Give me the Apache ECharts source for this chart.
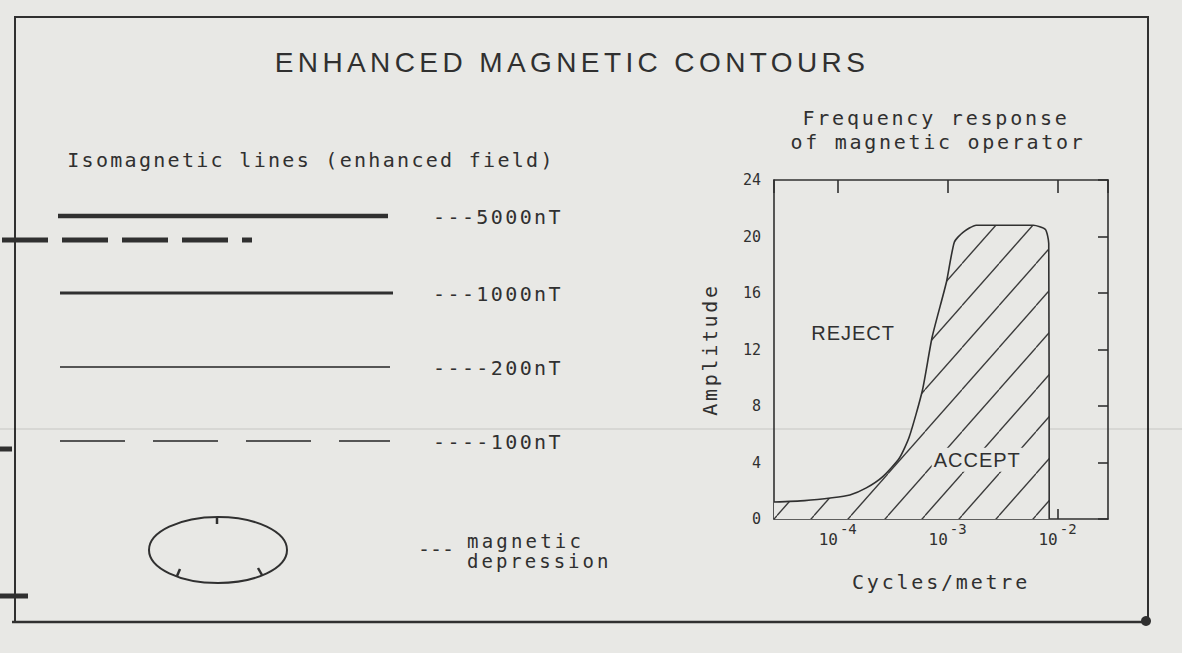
<!DOCTYPE html>
<html><head><meta charset="utf-8">
<script src="https://cdn.jsdelivr.net/npm/echarts@6/dist/echarts.min.js"></script>
<style>
html,body{margin:0;padding:0;background:#e8e8e5;}
#c{width:1182px;height:653px;}
</style></head>
<body><div id="c"></div>
<script>
// ---- data ----
const frequency = [2.63e-5, 5.0e-5, 8.9e-5, 1.29e-4, 1.82e-4, 2.57e-4, 3.63e-4, 4.47e-4, 5.89e-4, 7.24e-4, 9.77e-4, 1.15e-3, 1.38e-3, 1.82e-3, 3.16e-3, 6.03e-3, 7.76e-3, 8.32e-3, 8.4e-3];
const amplitude = [1.2, 1.3, 1.5, 1.7, 2.2, 3.0, 4.3, 5.8, 9.1, 12.9, 16.8, 19.6, 20.3, 20.8, 20.8, 20.8, 20.5, 19.5, 0];
const xRange = [2.63e-5, 2.88e-2];
const yTicks = [0, 4, 8, 12, 16, 20, 24];
const regionNames = ['REJECT', 'ACCEPT'];
const regionFreq = [1.38e-4, 1.86e-3];
const regionAmp = [13.2, 4.2];
const isolineLabels = ['---5000nT', '---1000nT', '----200nT', '----100nT'];
const depressionLabel = ['magnetic', 'depression'];

// ---- styles ----
const INK = '#303030';
const PAPER = '#e8e8e5';
const MONO = '"DejaVu Sans Mono", monospace';
const SANS = '"Liberation Sans", Arial, sans-serif';
const G = {left: 774, top: 180, width: 334, height: 339};

function hatchCanvas() {
  const w = 37, h = 42;
  const c = document.createElement('canvas'); c.width = w; c.height = h;
  const g = c.getContext('2d');
  g.fillStyle = PAPER; g.fillRect(0, 0, w, h);
  g.strokeStyle = '#3a3a3a'; g.lineWidth = 1.4;
  const off = ((G.left / w + (G.top + G.height) / h) % 1);
  for (let k = -1; k <= 2; k++) {
    const t = off + k;
    g.beginPath(); g.moveTo(0, h * t); g.lineTo(w, h * (t - 1)); g.stroke();
  }
  return c;
}

const chart = echarts.init(document.getElementById('c'), null, {renderer: 'svg'});

function line(x1, y1, x2, y2, width, extra) {
  return Object.assign({type: 'line', shape: {x1, y1, x2, y2}, style: {stroke: INK, lineWidth: width}, silent: true}, extra || {});
}
function txt(text, x, y, font, align, extra) {
  return {type: 'text', x, y, silent: true, style: Object.assign({text, font, fill: INK, align: align || 'left', verticalAlign: 'middle'}, extra || {})};
}

const isoY = [216, 293, 367, 441];
const ellipse = {cx: 218, cy: 550, rx: 69, ry: 33};

const graphics = [
  // frame
  {type: 'polyline', silent: true, shape: {points: [[15, 622], [15, 17], [1148, 17], [1148, 622]]}, style: {stroke: INK, lineWidth: 2, fill: null}},
  line(12, 622, 1148, 622, 2.5),
  {type: 'circle', silent: true, shape: {cx: 1146, cy: 621, r: 5}, style: {fill: INK}},
  // scan artefacts at the left edge
  line(2, 240, 252, 240, 5, {style: {stroke: INK, lineWidth: 5, lineDash: [46, 14]}}),
  line(0, 449, 12, 449, 5),
  line(0, 596, 28, 596, 5),
  line(0, 429, 1182, 429, 2, {style: {stroke: 'rgba(0,0,0,0.07)', lineWidth: 2}}),
  // titles
  txt('ENHANCED MAGNETIC CONTOURS', 572, 62, '28px ' + SANS, 'center'),
  txt('Isomagnetic lines (enhanced field)', 311, 160, '20px ' + MONO, 'center'),
  txt('Frequency response', 936, 118, '20px ' + MONO, 'center'),
  txt('of magnetic operator', 938, 142, '20px ' + MONO, 'center'),
  // isoline key
  line(58, isoY[0], 388, isoY[0], 4.5),
  line(60, isoY[1], 393, isoY[1], 3.2),
  line(60, isoY[2], 390, isoY[2], 2, {style: {stroke: '#555', lineWidth: 2}}),
  line(60, isoY[3], 390, isoY[3], 2, {style: {stroke: '#555', lineWidth: 2, lineDash: [65, 28]}}),
  // depression symbol
  {type: 'ellipse', silent: true, shape: ellipse, style: {stroke: INK, lineWidth: 2, fill: null}},
  line(217, 517, 217, 524, 2.5),
  line(177, 576, 180, 569, 2.5),
  line(262, 575, 258, 568, 2.5),
  txt('---', 418, 549, '20px ' + MONO),
  txt(depressionLabel.join('\n'), 467, 551, '19px ' + MONO, 'left', {lineHeight: 20})
];
isolineLabels.forEach((s, i) => graphics.push(txt(s, 433, isoY[i] + 1, '20px ' + MONO)));

const axisLineStyle = {color: INK, width: 1.6};
const option = {
  backgroundColor: PAPER,
  animation: false,
  grid: G,
  xAxis: [{
    type: 'log', logBase: 10, min: xRange[0], max: xRange[1], position: 'bottom',
    axisLine: {show: true, onZero: false, lineStyle: axisLineStyle},
    axisTick: {show: true, inside: true, length: 10, lineStyle: axisLineStyle},
    splitLine: {show: false}, minorTick: {show: false},
    axisLabel: {
      showMinLabel: false, showMaxLabel: false, margin: 3, color: INK,
      formatter: v => '{b|10}{e|' + Math.round(Math.log10(v)) + '}',
      rich: {b: {fontFamily: MONO, fontSize: 16, verticalAlign: 'bottom', color: INK},
             e: {fontFamily: MONO, fontSize: 14, verticalAlign: 'bottom', padding: [0, 0, 11, 2], color: INK}}
    },
    name: 'Cycles/metre', nameLocation: 'middle', nameGap: 53,
    nameTextStyle: {fontFamily: MONO, fontSize: 20, color: INK}
  }, {
    type: 'log', logBase: 10, min: xRange[0], max: xRange[1], position: 'top',
    axisLine: {show: true, onZero: false, lineStyle: axisLineStyle},
    axisTick: {show: true, inside: true, length: 13, lineStyle: axisLineStyle},
    axisLabel: {show: false}, splitLine: {show: false}
  }],
  yAxis: [{
    type: 'value', min: yTicks[0], max: yTicks[yTicks.length - 1], interval: yTicks[1] - yTicks[0], position: 'left',
    axisLine: {show: true, onZero: false, lineStyle: axisLineStyle}, axisTick: {show: false}, splitLine: {show: false},
    axisLabel: {margin: 13, fontFamily: MONO, fontSize: 15, color: INK},
    name: 'Amplitude', nameLocation: 'middle', nameGap: 54, nameRotate: 90,
    nameTextStyle: {fontFamily: MONO, fontSize: 20, color: INK}
  }, {
    type: 'value', min: yTicks[0], max: yTicks[yTicks.length - 1], interval: yTicks[1] - yTicks[0], position: 'right',
    axisLine: {show: true, onZero: false, lineStyle: axisLineStyle},
    axisTick: {show: true, inside: true, length: 10, lineStyle: axisLineStyle},
    axisLabel: {show: false}, splitLine: {show: false}
  }],
  series: [{
    type: 'line', xAxisIndex: 0, yAxisIndex: 0,
    data: frequency.map((f, i) => [f, amplitude[i]]),
    showSymbol: false, smooth: 0.2,
    lineStyle: {color: INK, width: 1.6},
    areaStyle: {color: {image: hatchCanvas(), repeat: 'repeat'}, opacity: 1},
    markPoint: {
      symbol: 'rect', symbolSize: 1, itemStyle: {color: 'rgba(0,0,0,0)'},
      label: {show: true, position: 'inside', formatter: '{b}', fontFamily: SANS, fontSize: 20, color: INK,
              backgroundColor: PAPER, padding: [2, 5]},
      data: regionNames.map((n, i) => ({name: n, coord: [regionFreq[i], regionAmp[i]]}))
    }
  }],
  graphic: graphics
};

const spacing = {
  'ENHANCED MAGNETIC CONTOURS': 4.4,
  'Isomagnetic lines (enhanced field)': 2.3,
  'Frequency response': 2.8,
  'of magnetic operator': 2.7,
  'Cycles/metre': 2.8,
  'Amplitude': 2.7,
  'magnetic': 3.2, 'depression': 3.0, '---': 0,
  'REJECT': 1, 'ACCEPT': 1
};
isolineLabels.forEach(s => spacing[s] = 2.4);
function applySpacing() {
  document.querySelectorAll('#c text').forEach(t => {
    const s = spacing[t.textContent.trim()];
    if (s != null) t.style.letterSpacing = s + 'px';
  });
}
chart.on('finished', applySpacing);
chart.setOption(option);
applySpacing();
setTimeout(applySpacing, 30);
setTimeout(applySpacing, 200);
</script>
</body></html>
